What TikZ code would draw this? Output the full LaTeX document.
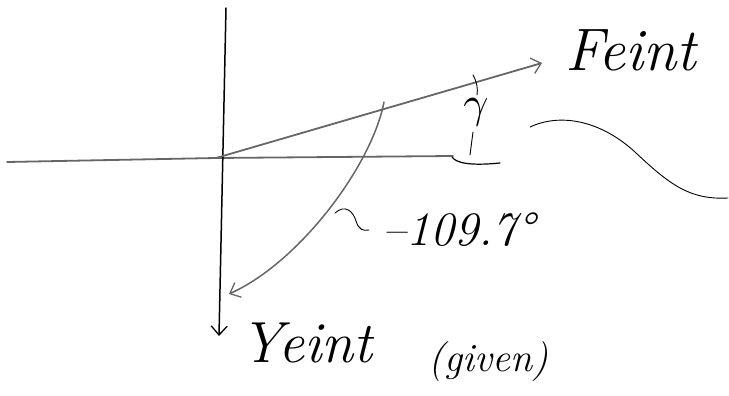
\documentclass[tikz,border=0pt]{standalone}
\usetikzlibrary{arrows.meta}
\begin{document}
\begin{tikzpicture}[x=1pt,y=-1pt, line cap=round, line join=round,
  ink/.style={black, line width=1.5pt},
  pencil/.style={black!60, line width=1.8pt},
  thinink/.style={black, line width=0.9pt},
  barb/.style={-{Straight Barb[length=9pt,width=16pt,line width=1.3pt]}},
  hand/.style={inner sep=0pt, font=\itshape}]
\useasboundingbox (0,0) rectangle (729,396);
% key points
\coordinate (O) at (216,158);
\coordinate (ytop) at (226,8);
\coordinate (ytip) at (219,336);
\coordinate (xleft) at (7,162);
\coordinate (xright) at (453,156);
\coordinate (ftip) at (542,63);
\coordinate (arcstart) at (384,102);
\coordinate (arcend) at (229,294);
\coordinate (lead0) at (335,213);
\coordinate (lead1) at (369,230);
\coordinate (g0) at (473,75);
\coordinate (g1) at (477,95);
\coordinate (g2) at (473,132);
\coordinate (g3) at (470,155);
\coordinate (cap0) at (452,157);
\coordinate (cap1) at (500,163);
\coordinate (w0) at (530,127);
\coordinate (w1) at (728,198);
% axes
\draw[pencil] (xleft) -- (O) -- (xright);
\draw[ink, barb] (ytop) -- (ytip);
\draw[pencil, barb] (O) -- (ftip);
% -109.7 arc
\draw[pencil, line width=1.5pt, barb] (arcstart) .. controls (372,165) and (300,262) .. (arcend);
\draw[thinink] (lead0) .. controls (345,204) and (353,211) .. (356,221) .. controls (359,230) and (363,231) .. (lead1);
% gamma marker
\node[inner sep=0pt] (gam) at (476,112) {\scalebox{4.4}{$\gamma$}};
\draw[thinink] (g0) .. controls (477,82) and (478,89) .. (g1);
\draw[thinink] (g2) -- (g3);
\draw[ink, line width=1.2pt] (cap0) .. controls (456,163) and (470,166) .. (cap1);
% wave
\draw[thinink] (w0) .. controls (560,113) and (600,120) .. (635,152) .. controls (670,185) and (690,200) .. (w1);
% labels
\node[hand, font=\itshape\fontsize{60}{60}\selectfont, anchor=west] (F) at (565,50) {Feint};
\node[hand, font=\itshape\fontsize{48}{48}\selectfont, anchor=west] (ang) at (382,230) {--109.7°};
\node[hand, font=\itshape\fontsize{58}{58}\selectfont, anchor=west] (Y) at (240,343) {Yeint};
\node[hand, font=\itshape\fontsize{40}{40}\selectfont, anchor=west] (giv) at (428,362) {(given)};
\end{tikzpicture}
\end{document}
